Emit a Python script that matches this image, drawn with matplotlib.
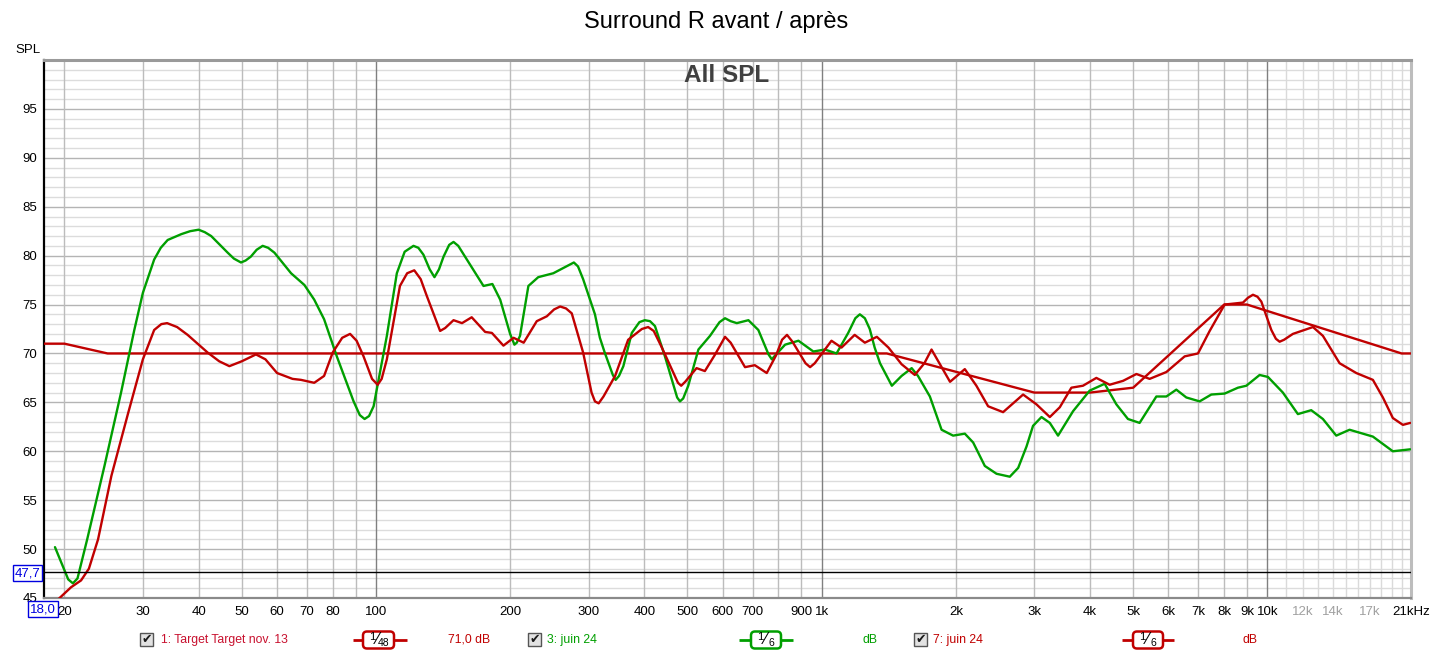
import matplotlib
matplotlib.use('Agg')
import matplotlib.pyplot as plt
from matplotlib.patches import FancyBboxPatch, Rectangle

plt.rcParams['font.family'] = ['Liberation Sans', 'DejaVu Sans']

# ---------------- data ----------------
title = "Surround R avant / après"
panel_label = "All SPL"

target_f = [18, 20, 25, 1400, 3000, 4000, 5000, 8000, 9000, 20000, 21000]
target_db = [71, 71, 70, 70, 66, 66, 66.5, 75, 75, 70, 70]

green_f = [19.05, 20.4, 20.9, 21.4, 22.5, 24.6, 26.8, 28.7, 30, 31.8, 32.9, 34.1, 36.6, 38.3, 40,
           41.3, 42.7, 46.5, 48, 49.8, 51, 52.4, 54, 55.7, 57.3, 59.2, 64.5, 69.1, 72.7, 76.5,
           81.7, 89.1, 92, 94.3, 96.5, 98.8, 105.8, 111.4, 116, 121.4, 124.5, 127.8, 132,
           135.3, 138.5, 141.8, 146, 149.3, 153, 160, 174.3, 182.5, 190, 200, 204.5, 207,
           210.5, 219.8, 231.3, 250, 270, 278, 284, 291.6, 310, 318, 326, 340, 345, 351, 359,
           375, 390, 401, 412, 422.7, 445, 474, 481, 489, 502, 529, 561.7, 590, 607, 625, 645,
           685, 721, 760, 773, 790, 828, 887, 958, 1017, 1080, 1147, 1190, 1218, 1250, 1282,
           1315, 1352, 1437, 1511, 1592, 1645, 1749, 1858, 1972, 2095, 2187, 2323, 2468,
           2643, 2760, 2882, 2980, 3113, 3250, 3391, 3665, 3993, 4315, 4583, 4866, 5168,
           5442, 5635, 5934, 6248, 6579, 7046, 7485, 8020, 8590, 8970, 9607, 10028, 10834,
           11707, 12542, 13322, 14273, 15289, 16380, 17248, 19119, 20920]
green_db = [50.2, 46.9, 46.5, 47.0, 51.0, 58.5, 66.0, 72.4, 76.2, 79.6, 80.8, 81.6, 82.2, 82.5, 82.65,
            82.4, 82.0, 80.3, 79.7, 79.3, 79.5, 79.9, 80.6, 81.0, 80.8, 80.3, 78.2, 77.0, 75.5, 73.5,
            69.7, 65.1, 63.7, 63.3, 63.6, 64.6, 71.8, 78.2, 80.4, 81.0, 80.8, 80.1, 78.6,
            77.8, 78.6, 79.9, 81.1, 81.4, 81.0, 79.6, 76.9, 77.1, 75.5, 72.0, 70.9, 71.1,
            71.8, 76.9, 77.8, 78.2, 79.0, 79.3, 78.9, 77.6, 74.0, 71.6, 70.1, 67.8, 67.3, 67.7, 68.7,
            72.1, 73.2, 73.4, 73.3, 72.8, 69.7, 65.5, 65.1, 65.4, 66.7, 70.4, 71.8, 73.2, 73.6, 73.3, 73.1,
            73.4, 72.4, 69.9, 69.4, 69.9, 70.9, 71.3, 70.2, 70.4, 70.0, 72.1, 73.6, 74.0, 73.6, 72.5,
            70.6, 69.0, 66.7, 67.7, 68.5, 67.7, 65.6, 62.2, 61.6, 61.8, 60.9, 58.5, 57.7,
            57.4, 58.3, 60.5, 62.6, 63.5, 62.9, 61.6, 64.1, 66.2, 66.9, 64.8, 63.3, 62.9,
            64.5, 65.6, 65.6, 66.3, 65.5, 65.1, 65.8, 65.9, 66.5, 66.7, 67.8, 67.6, 66.0,
            63.8, 64.2, 63.3, 61.6, 62.2, 61.8, 61.5, 60.0, 60.2]

red_f = [19.3, 20.7, 21.8, 22.7, 23.8, 25.5, 27.8, 30, 31.8, 33, 34.0, 35.8, 37.8, 41.9, 44.5,
         46.9, 50, 53.8, 56.5, 60, 65.0, 67.9, 72.7, 76.5, 80, 84, 87.5, 90.5, 93.8, 98, 100.9,
         103, 105.8, 113.2, 117.5, 121.9, 126, 130, 139.3, 143, 149.3, 156, 164, 175.8, 182,
         193.2, 203.6, 214.5, 229.5, 241.8, 251, 259, 267, 275, 291.6, 304.6, 310, 316, 324,
         344, 368, 395, 408, 420, 437, 476, 484, 494, 524, 547, 575, 607, 625, 673, 708, 753,
         790, 815, 836, 860, 920, 942, 965, 1052, 1108, 1186, 1250, 1330, 1412, 1511, 1618,
         1700, 1764, 1858, 1941, 2095, 2224, 2363, 2553, 2831, 3033, 3250, 3422, 3633, 3857,
         4133, 4427, 4745, 5084, 5442, 5934, 6522, 6987, 7422, 8020, 8815, 9050, 9282, 9500,
         9692, 10206, 10450, 10653, 10900, 11410, 12655, 13322, 14521, 15828, 17248, 18160,
         19119, 20138, 20920]
red_db = [44.8, 46.1, 46.8, 48.0, 51.0, 57.5, 63.9, 69.4, 72.4, 73.0, 73.1, 72.7, 71.9, 70.1, 69.2,
          68.7, 69.2, 69.9, 69.4, 68.0, 67.4, 67.3, 67.0, 67.7, 70.1, 71.6, 72.0, 71.3, 69.7, 67.4, 66.8,
          67.4, 69.4, 76.9, 78.2, 78.5, 77.6, 75.9, 72.3, 72.6, 73.4, 73.1, 73.7, 72.2, 72.1,
          70.8, 71.6, 71.1, 73.3, 73.8, 74.5, 74.8, 74.6, 74.1, 70.1, 66.0, 65.1, 64.9, 65.6,
          67.7, 71.4, 72.5, 72.7, 72.3, 70.7, 67.0, 66.7, 67.1, 68.5, 68.2, 69.8, 71.7, 71.1, 68.6, 68.8, 68.0,
          69.8, 71.4, 71.9, 71.2, 69.0, 68.6, 69.0, 71.3, 70.6, 71.9, 71.1, 71.7, 70.6, 68.9, 67.8,
          69.0, 70.4, 68.6, 67.1, 68.4, 66.7, 64.6, 64.0, 65.8, 64.8, 63.5, 64.5, 66.5, 66.7,
          67.5, 66.8, 67.2, 67.9, 67.4, 68.1, 69.7, 70.0, 72.3, 75.0, 75.2, 75.7, 76.0, 75.8,
          75.3, 72.4, 71.5, 71.2, 71.4, 72.0, 72.7, 71.8, 69.0, 68.0, 67.3, 65.5,
          63.4, 62.7, 62.9]

cursor_db = 47.7
cursor_f = 18.0

xtick_vals = [20, 30, 40, 50, 60, 70, 80, 100, 200, 300, 400, 500, 600, 700, 900, 1000,
              2000, 3000, 4000, 5000, 6000, 7000, 8000, 9000, 10000, 12000, 14000, 17000, 21000]
xtick_labels = ['20', '30', '40', '50', '60', '70', '80', '100', '200', '300', '400', '500',
                '600', '700', '900', '1k', '2k', '3k', '4k', '5k', '6k', '7k', '8k', '9k',
                '10k', '12k', '14k', '17k', '21kHz']
gray_labels = ['12k', '14k', '17k']
ytick_vals = [45, 50, 55, 60, 65, 70, 75, 80, 85, 90, 95]

legend_names = ["1: Target Target nov. 13", "3: juin 24", "7: juin 24"]
legend_smooth = [("1", "48"), ("1", "6"), ("1", "6")]
legend_values = ["71,0 dB", "dB", "dB"]

# ---------------- styling ----------------
RED = '#c00000'
GREEN = '#009f00'
W, H = 1433, 655


def fx(px):
    return px / W


def fy(py):
    return 1 - py / H


fig = plt.figure(figsize=(W / 100, H / 100), dpi=100)
fig.patch.set_facecolor('white')
ax = fig.add_axes([fx(44), fy(598), (1411 - 44) / W, (598 - 60) / H])
ax.set_xscale('log')
ax.set_xlim(18, 21000)
ax.set_ylim(45, 100)

# grid
for d in range(46, 100):
    if d % 5 == 0:
        ax.axhline(d, color='#b4b4b4', lw=1.0, zorder=1)
    else:
        ax.axhline(d, color='#dcdcdc', lw=1.0, zorder=0.5)
for dec in [10, 100, 1000]:
    for m in range(2, 10):
        f = m * dec
        if f < 18:
            continue
        ax.axvline(f, color='#bcbcbc', lw=1.0, zorder=1)
for f in [100, 1000, 10000]:
    ax.axvline(f, color='#808080', lw=1.0, zorder=1.2)
for m in range(11, 21):
    ax.axvline(m * 1000, color='#dadada', lw=1.0, zorder=0.8)

# curves
ax.plot(target_f, target_db, color=RED, lw=1.7, zorder=3, solid_joinstyle='round')
ax.plot(green_f, green_db, color=GREEN, lw=1.7, zorder=4, solid_joinstyle='round',
        solid_capstyle='round')
ax.plot(red_f, red_db, color=RED, lw=1.7, zorder=5, solid_joinstyle='round',
        solid_capstyle='round')

# cursor line
ax.axhline(cursor_db, color='black', lw=1.0, zorder=6)

# ticks
ax.xaxis.set_minor_locator(matplotlib.ticker.NullLocator())
ax.set_xticks(xtick_vals)
ax.set_xticklabels(xtick_labels)
ax.set_yticks(ytick_vals)
ax.set_yticklabels([str(v) for v in ytick_vals])
ax.tick_params(axis='both', length=0, labelsize=9.5)
ax.tick_params(axis='x', pad=6)
ax.tick_params(axis='y', pad=5)
for lab in ax.get_xticklabels():
    if lab.get_text() in gray_labels:
        lab.set_color('#a0a0a0')

# spines
ax.spines['left'].set_color('black')
ax.spines['left'].set_linewidth(1.6)
ax.spines['top'].set_color('#9a9a9a')
ax.spines['top'].set_linewidth(2.2)
ax.spines['right'].set_color('#bdbdbd')
ax.spines['right'].set_linewidth(2.2)
ax.spines['bottom'].set_color('#8a8a8a')
ax.spines['bottom'].set_linewidth(1.6)

# titles
fig.text(fx(716), fy(22), title, ha='center', va='center', fontsize=17, color='black')
fig.text(fx(727), fy(75), panel_label, ha='center', va='center', fontsize=17.5,
         fontweight='bold', color='#404040', zorder=10)
fig.text(fx(28), fy(50), "SPL", ha='center', va='center', fontsize=9.5)

# cursor boxes
fig.text(fx(27.5), fy(573), f"{cursor_db:.1f}".replace('.', ','), ha='center', va='center',
         fontsize=9.5, color='#0000e0',
         bbox=dict(boxstyle='square,pad=0.12', fc='white', ec='#0000e0', lw=1.0), zorder=10)
fig.text(fx(43), fy(609), f"{cursor_f:.1f}".replace('.', ','), ha='center', va='center',
         fontsize=9.5, color='#0000e0',
         bbox=dict(boxstyle='square,pad=0.12', fc='white', ec='#0000e0', lw=1.0), zorder=10)

# legend row drawn in an overlay with pixel coordinates
ov = fig.add_axes([0, 0, 1, 1], zorder=20)
ov.set_xlim(0, W)
ov.set_ylim(H, 0)
ov.axis('off')
ov.patch.set_alpha(0)

LY = 640
check_x = [140, 528, 914]
name_x = [161, 547, 933]
name_cols = ['#c8102e', GREEN, RED]
icon_x = [(353, 407, 363, 394), (739, 793, 751, 781), (1122, 1174, 1133, 1163)]
icon_cols = [RED, GREEN, RED]
val_x = [448, 863, 1243]
val_cols = [RED, GREEN, RED]

for i in range(3):
    cx = check_x[i]
    ov.add_patch(Rectangle((cx, LY - 7), 13, 13, fc='#e2e2e2', ec='#555555', lw=1.0))
    ov.text(cx + 6.5, LY - 0.5, '\u2714', ha='center', va='center', fontsize=9,
            color='#1a1a1a', family='DejaVu Sans')
    ov.text(name_x[i], LY, legend_names[i], ha='left', va='center', fontsize=8.8,
            color=name_cols[i])
    x0, x1, b0, b1 = icon_x[i]
    ov.plot([x0, x1], [LY, LY], color=icon_cols[i], lw=2.0, solid_capstyle='butt')
    ov.add_patch(FancyBboxPatch((b0, LY - 8.5), b1 - b0, 17,
                                boxstyle='round,pad=0,rounding_size=4',
                                fc='white', ec=icon_cols[i], lw=1.8, zorder=3))
    num, den = legend_smooth[i]
    mid = (b0 + b1) / 2
    ov.text(mid - 6, LY - 2.5, num, ha='center', va='center', fontsize=8, color='black', zorder=4)
    ov.text(mid - 1, LY, '\u2044', ha='center', va='center', fontsize=11, color='black',
            family='DejaVu Sans', zorder=4)
    ov.text(mid + 5, LY + 2.5, den, ha='center', va='center', fontsize=7.5, color='black',
            zorder=4)
    ov.text(val_x[i], LY, legend_values[i], ha='left', va='center', fontsize=8.8,
            color=val_cols[i])

fig.savefig('out.png', dpi=100, facecolor='white')
